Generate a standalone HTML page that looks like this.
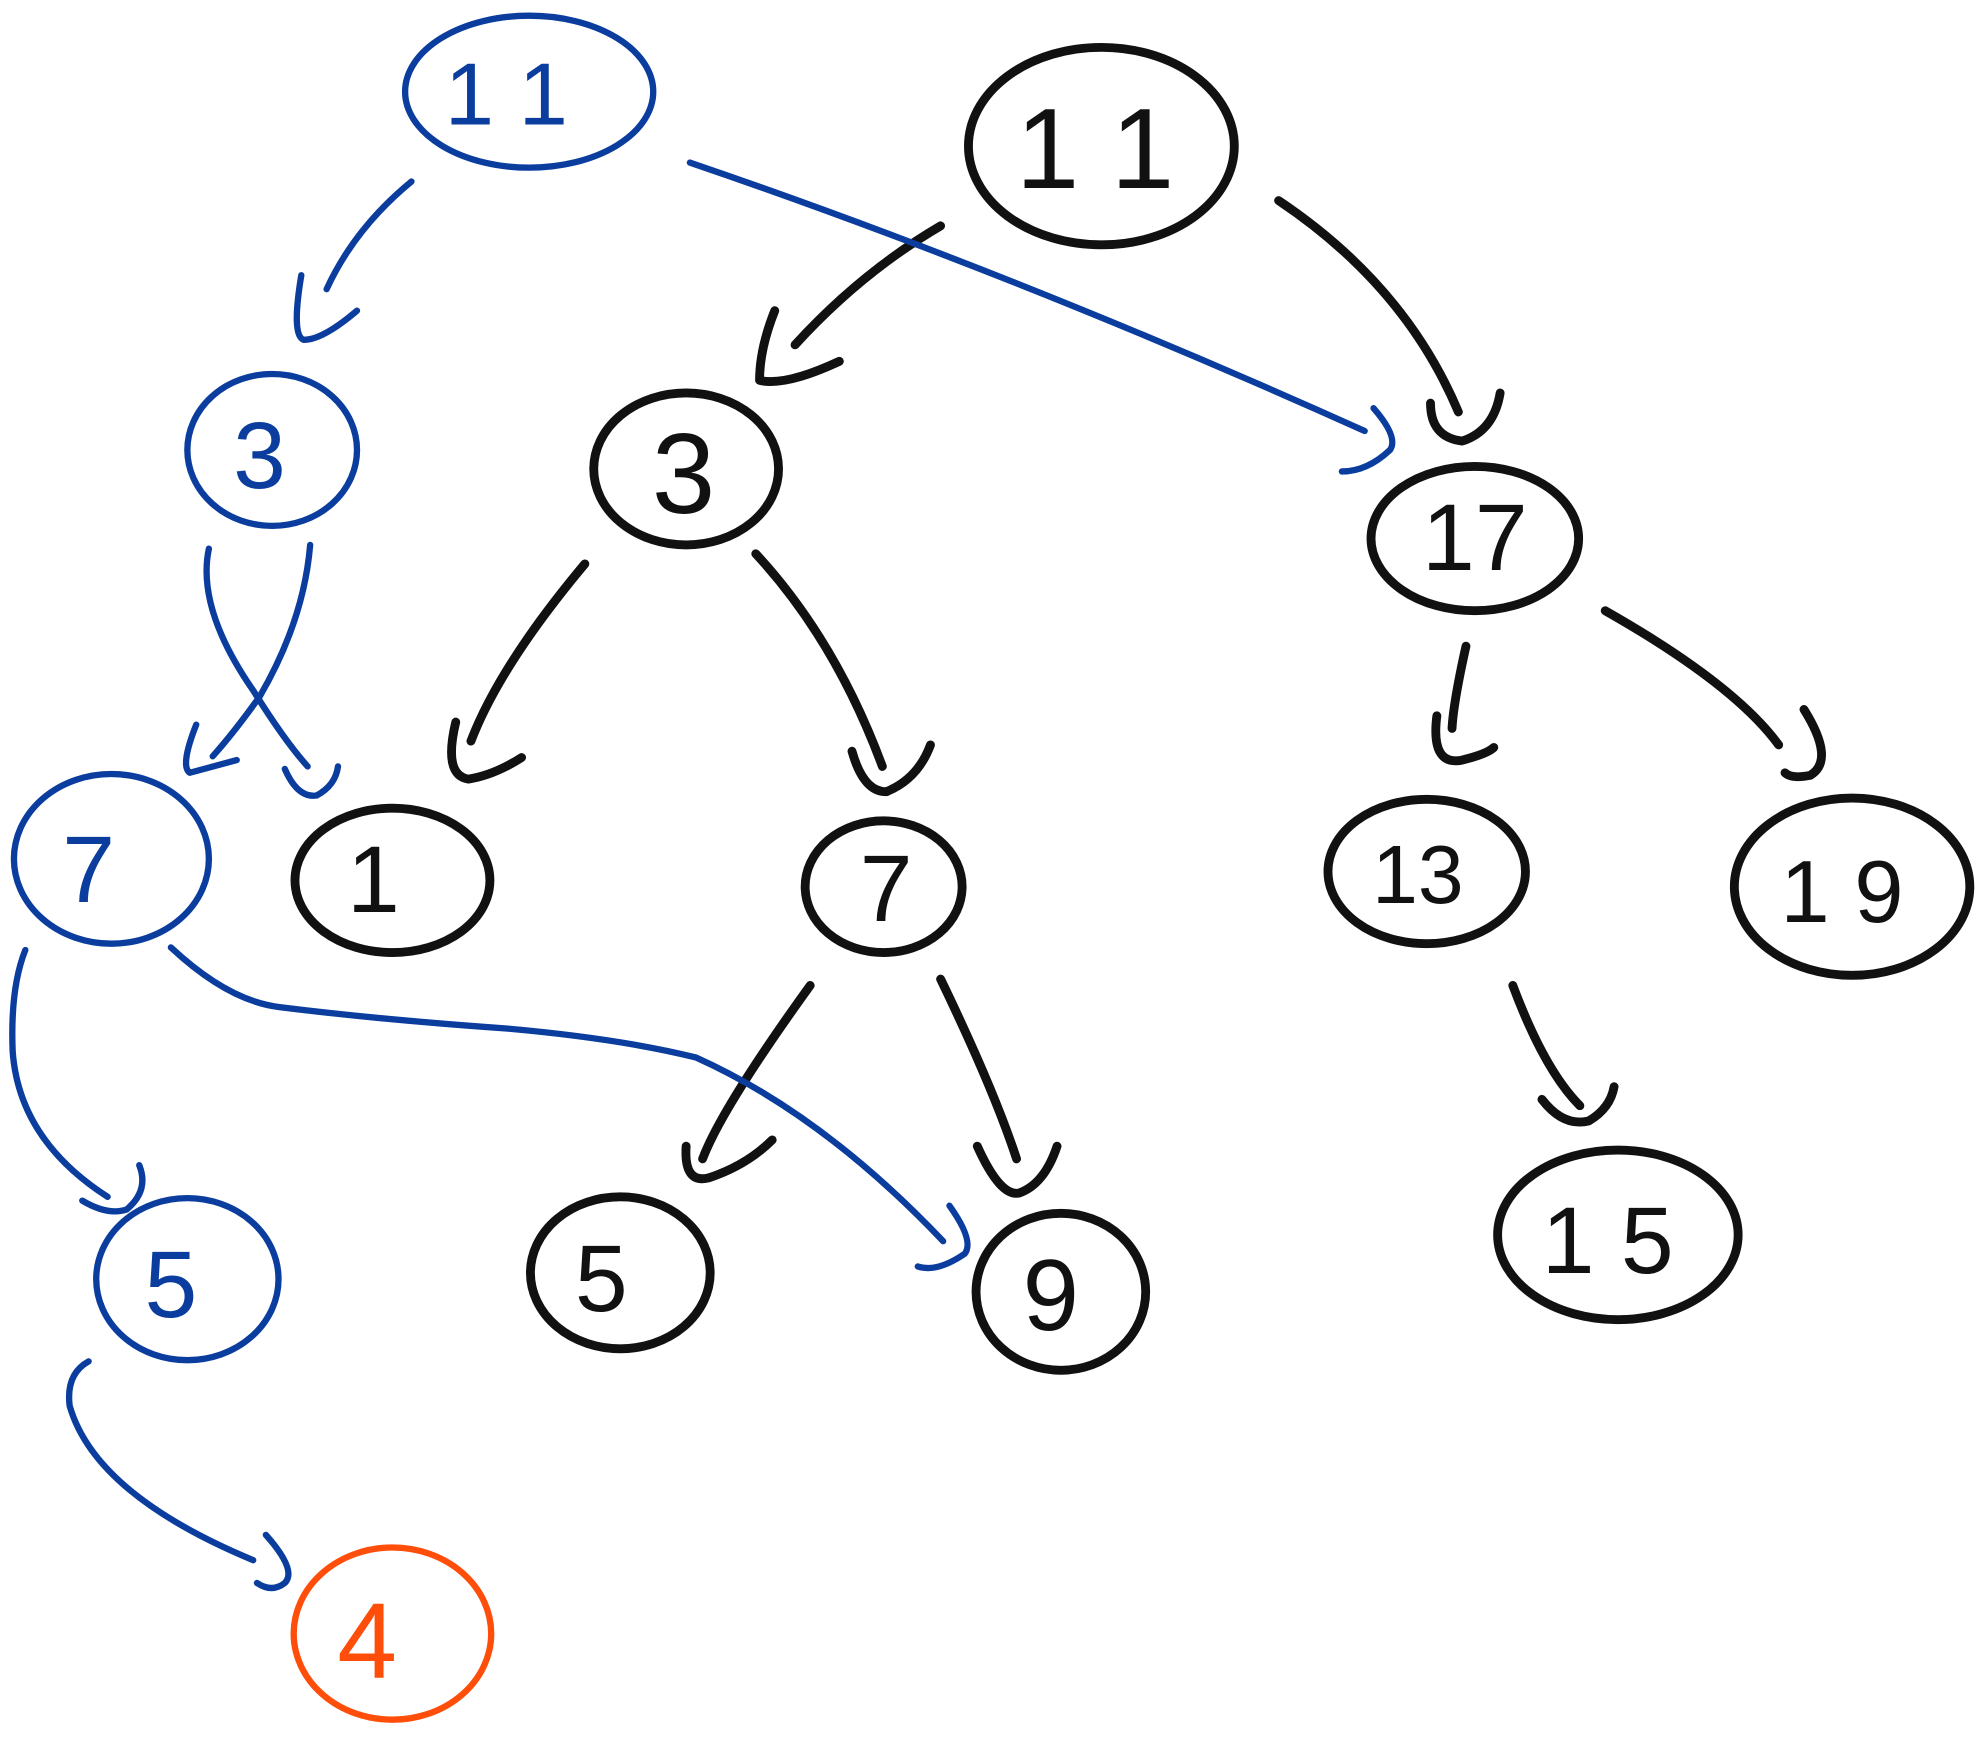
<!DOCTYPE html>
<html><head><style>html,body{margin:0;padding:0;background:#fff}svg{display:block}</style></head>
<body>
<svg width="1985" height="1743" viewBox="0 0 1568 1376" xmlns="http://www.w3.org/2000/svg" fill="none" stroke-linecap="round" stroke-linejoin="round">
<g stroke="#111" stroke-width="7">
<ellipse cx="870" cy="115" rx="105" ry="78"/>
<ellipse cx="542" cy="370" rx="73" ry="60"/>
<ellipse cx="1165" cy="425" rx="82" ry="57"/>
<ellipse cx="310" cy="695" rx="77" ry="57"/>
<ellipse cx="698" cy="700" rx="62" ry="52"/>
<ellipse cx="1127" cy="688" rx="78" ry="57"/>
<ellipse cx="1463" cy="700" rx="93" ry="70"/>
<ellipse cx="490" cy="1005" rx="71" ry="60"/>
<ellipse cx="838" cy="1020" rx="67" ry="62"/>
<ellipse cx="1278" cy="975" rx="95" ry="67"/>
<path d="M743 178 Q680 215 628 272 M612 245 Q600 275 600 300 Q620 305 663 285"/>
<path d="M1010 158 Q1110 225 1152 325 M1130 318 Q1130 345 1155 348 Q1180 340 1185 310"/>
<path d="M462 445 Q395 525 372 585 M360 570 Q350 612 370 615 Q390 612 412 598"/>
<path d="M597 437 Q660 505 697 605 M673 593 Q682 625 700 625 Q725 615 735 588"/>
<path d="M1158 510 Q1148 555 1147 575 M1135 565 Q1130 605 1155 600 Q1175 595 1180 590"/>
<path d="M1268 482 Q1370 540 1405 588 M1425 560 Q1450 600 1430 612 Q1415 615 1410 610"/>
<path d="M640 778 Q570 875 555 915 M542 905 Q540 935 560 930 Q590 920 610 900"/>
<path d="M743 773 Q785 860 803 915 M772 905 Q790 945 805 942 Q825 935 835 905"/>
<path d="M1195 778 Q1220 845 1248 873 M1218 868 Q1235 890 1255 885 Q1272 875 1275 858"/>
</g>
<g font-family="Liberation Sans, sans-serif" text-anchor="middle" fill="#111">
<text x="865" y="148" font-size="90">1 1</text>
<text x="540" y="405" font-size="90">3</text>
<text x="1165" y="450" font-size="75">17</text>
<text x="295" y="720" font-size="75">1</text>
<text x="700" y="727" font-size="75">7</text>
<text x="1120" y="713" font-size="65">13</text>
<text x="1455" y="728" font-size="70">1 9</text>
<text x="475" y="1035" font-size="75">5</text>
<text x="830" y="1050" font-size="80">9</text>
<text x="1270" y="1005" font-size="75">1 5</text>
</g>
<g stroke="#0a3d9e" stroke-width="5">
<ellipse cx="418" cy="72" rx="98" ry="60"/>
<ellipse cx="215" cy="355" rx="67" ry="60"/>
<ellipse cx="88" cy="678" rx="77" ry="67"/>
<ellipse cx="148" cy="1010" rx="72" ry="64"/>
<path d="M325 143 Q280 180 258 228 M238 217 Q230 265 240 268 Q255 268 282 245"/>
<path d="M165 433 Q155 480 200 545 Q225 585 243 605 M225 607 Q235 630 250 628 Q265 620 267 605"/>
<path d="M245 430 Q240 490 205 550 Q185 578 168 597 M155 572 Q142 605 150 610 Q165 606 187 600"/>
<path d="M545 128 Q800 215 1078 340 M1085 322 Q1105 345 1098 355 Q1080 372 1060 372"/>
<path d="M20 750 Q8 780 10 830 Q15 900 85 945 M65 948 Q85 960 100 955 Q118 940 110 920"/>
<path d="M135 748 Q180 790 220 795 Q300 805 400 812 Q490 820 550 835 Q650 880 745 980 M750 952 Q770 980 762 990 Q740 1005 725 1000"/>
<path d="M70 1075 Q52 1085 55 1110 Q75 1180 200 1232 M210 1212 Q235 1240 225 1250 Q215 1258 203 1250"/>
</g>
<g font-family="Liberation Sans, sans-serif" text-anchor="middle" fill="#0a3d9e">
<text x="400" y="98" font-size="70">1 1</text>
<text x="205" y="385" font-size="75">3</text>
<text x="70" y="712" font-size="75">7</text>
<text x="135" y="1040" font-size="75">5</text>
</g>
<ellipse cx="310" cy="1290" rx="78" ry="68" stroke="#ff4d0a" stroke-width="5"/>
<text x="290" y="1325" font-family="Liberation Sans, sans-serif" font-size="85" text-anchor="middle" fill="#ff4d0a">4</text>
</svg>
</body></html>
